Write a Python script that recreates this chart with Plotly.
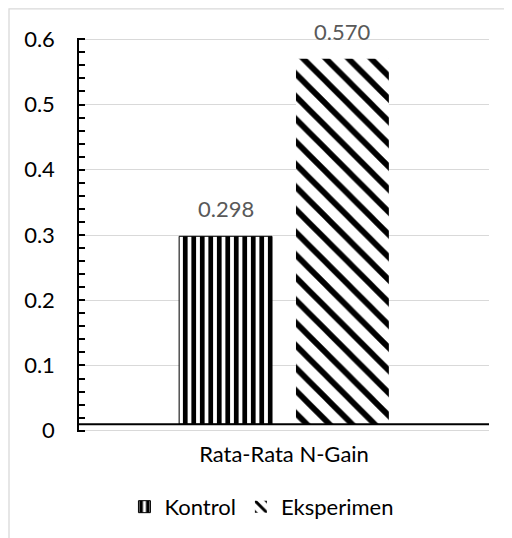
import plotly.graph_objects as go

categories = ["Rata-Rata N-Gain"]
series_names = ["Kontrol", "Eksperimen"]
kontrol_values = [0.298]
eksperimen_values = [0.570]
y_tick_values = [0, 0.1, 0.2, 0.3, 0.4, 0.5, 0.6]
y_tick_labels = ["0", "0.1", "0.2", "0.3", "0.4", "0.5", "0.6"]

AXIS_CROSS = 0.01  # horizontal axis crosses slightly above zero
FONT = "Lato"
FS = 22

fig = go.Figure()
fig.add_trace(go.Bar(
    name=series_names[0], x=categories,
    y=[v - AXIS_CROSS for v in kontrol_values], base=AXIS_CROSS,
    marker=dict(color="white", line=dict(color="black", width=1),
                pattern=dict(shape="|", size=8.5, solidity=0.55, fgopacity=1,
                             fgcolor="black", bgcolor="white", fillmode="overlay")),
    hoverinfo="skip",
))
fig.add_trace(go.Bar(
    name=series_names[1], x=categories,
    y=[v - AXIS_CROSS for v in eksperimen_values], base=AXIS_CROSS,
    marker=dict(color="white", line=dict(color="white", width=0),
                pattern=dict(shape="\\", size=16, solidity=0.36, fgopacity=1,
                             fgcolor="black", bgcolor="white", fillmode="overlay")),
    hoverinfo="skip",
))

BARGAP = 0.43
BARGROUPGAP = 0.205
slot = (1 - BARGAP) / 2
for i, vals in enumerate([kontrol_values, eksperimen_values]):
    off = (i - 0.5) * slot
    fig.add_annotation(x=off, y=vals[0], xref="x", yref="y",
                       text=f"{vals[0]:.3f}", showarrow=False,
                       yanchor="bottom", yshift=12,
                       font=dict(family=FONT, size=FS, color="#595959"))

# horizontal axis line
fig.add_shape(type="line", xref="paper", yref="y", x0=0, x1=1,
              y0=AXIS_CROSS, y1=AXIS_CROSS, line=dict(color="black", width=2))
# chart area border
fig.add_shape(type="rect", xref="paper", yref="paper", x0=-0.1707, x1=1.2,
              y0=-0.5, y1=1.074, line=dict(color="#d9d9d9", width=1.3),
              layer="below")

fig.update_layout(
    width=504, height=530,
    margin=dict(l=71, r=23, t=29.7, b=106.2, autoexpand=False),
    paper_bgcolor="white", plot_bgcolor="white",
    barmode="group", bargap=BARGAP, bargroupgap=BARGROUPGAP,
    font=dict(family=FONT, size=FS, color="black"),
    showlegend=True,
    legend=dict(orientation="h", x=0.445, xanchor="center", y=-0.19, yanchor="middle",
                font=dict(family=FONT, size=FS, color="black"),
                itemwidth=30, tracegroupgap=0),
    xaxis=dict(showline=False, showgrid=False, ticks="", tickfont=dict(size=FS),
               ticklabelstandoff=7, automargin=False, fixedrange=True),
    yaxis=dict(range=[-0.002, 0.602], tickvals=y_tick_values, ticktext=y_tick_labels,
               showline=True, linecolor="black", linewidth=1.5,
               ticks="inside", ticklen=6, tickwidth=1.5, tickcolor="black",
               minor=dict(dtick=0.02, ticks="inside", ticklen=6, tickwidth=1.5,
                          tickcolor="black", showgrid=False),
               showgrid=True, gridcolor="#d9d9d9", gridwidth=1.3,
               zeroline=False, ticklabelstandoff=18, automargin=False,
               fixedrange=True),
)

fig.write_html("out.html")
